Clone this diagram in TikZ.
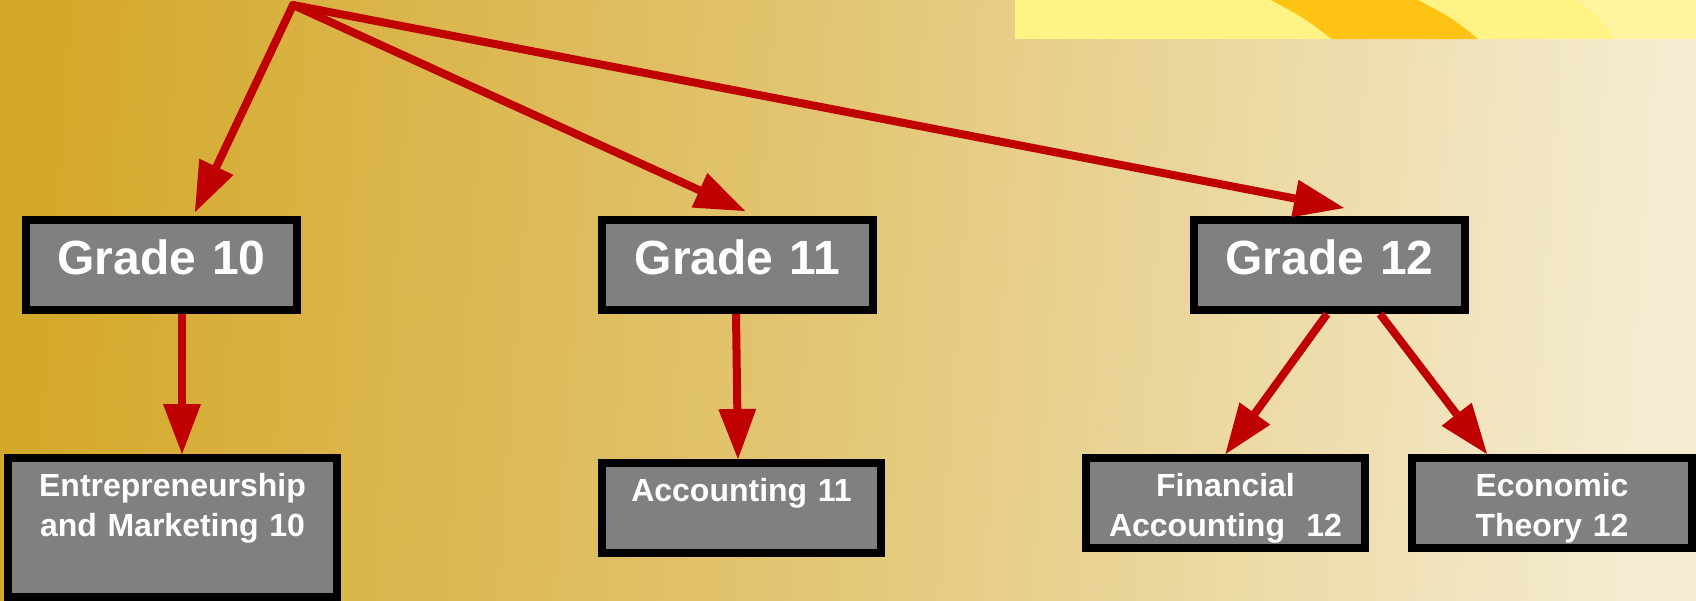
\documentclass[tikz,border=0pt]{standalone}
\usepackage{fontspec}
\setmainfont{Liberation Sans}
\usetikzlibrary{arrows.meta}
\definecolor{boxgray}{HTML}{808080}
\definecolor{arrowred}{HTML}{C00000}
\definecolor{golddark}{HTML}{D4A82A}
\definecolor{goldmid}{HTML}{E3C777}
\definecolor{goldlight}{HTML}{F5ECD2}
\definecolor{sunyellow}{HTML}{FFF385}
\definecolor{sunlight}{HTML}{FFF5A0}
\definecolor{sunorange}{HTML}{FFC314}
\tikzstyle{gradebox} = [rectangle, draw=black, line width=8pt, fill=boxgray, text=white, inner sep=0pt, text width=271pt, align=center, text height=54pt, text depth=36pt, font=\bfseries\fontsize{48}{58}\selectfont]
\tikzstyle{coursebox} = [rectangle, draw=black, line width=8pt, fill=boxgray, text=white, inner sep=0pt, align=center, text height=38pt, text depth=52pt, font=\bfseries\fontsize{32}{40}\selectfont]
\tikzstyle{arrow} = [line width=8pt, draw=arrowred, -{Triangle[length=50pt, width=38pt, line width=0pt]}]

\begin{document}
\begin{tikzpicture}[x=1pt, y=-1pt]
        \useasboundingbox (0,0) rectangle (1696,600);
        \shade[left color=golddark, right color=goldlight, middle color=goldmid, shading angle=86] (0,0) rectangle (1696,600);

        % picture strip top right
        \fill[sunyellow] (1015,0) rectangle (1696,39);
        \fill[sunlight] (1579,0) .. controls (1600,18) .. (1616,39) -- (1696,39) -- (1696,0) -- cycle;
        \fill[sunorange] (1271,0) .. controls (1304,18) .. (1332,39) -- (1478,39) .. controls (1452,18) .. (1418,0) -- cycle;

        \node (G10) [gradebox] at (161.5,265) {Grade 10};
        \node (G11) [gradebox] at (737.5,265) {Grade 11};
        \node (G12) [gradebox] at (1329.5,265) {Grade 12};

        \node (EM) [coursebox, text width=329pt, text depth=101pt] at (172.5,527.5) {Entrepreneurship\\and Marketing 10};
        \node (A11) [coursebox, text width=279pt] at (741.5,508) {Accounting 11};
        \node (FA) [coursebox, text width=279pt] at (1225.5,503) {Financial\\Accounting~\ 12};
        \node (ET) [coursebox, text width=280pt] at (1552,503) {Economic\\Theory 12};

        \coordinate (top) at (293,5);
        \draw[arrow, line cap=round] (top) -- ([xshift=33.5pt, yshift=4pt]G10.north);
        \draw[arrow, line cap=round] (top) -- ([xshift=7.5pt, yshift=5pt]G11.north);
        \draw[arrow, line cap=round] (top) -- ([xshift=14.5pt, yshift=8pt]G12.north);

        \draw[arrow] ([xshift=20.5pt]G10.south) -- ([xshift=9.5pt]EM.north);
        \draw[arrow] ([xshift=-1.5pt]G11.south) -- ([xshift=-3.5pt]A11.north);
        \draw[arrow] ([xshift=-2.5pt]G12.south) -- (FA.north);
        \draw[arrow] ([xshift=50.5pt]G12.south) -- ([xshift=-65pt]ET.north);
\end{tikzpicture}
\end{document}
